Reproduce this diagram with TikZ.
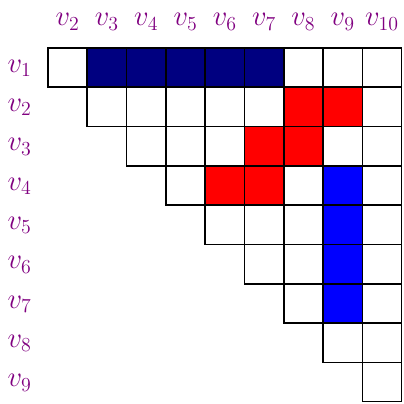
\documentclass[tikz,border=0pt]{standalone}
\definecolor{navyc}{RGB}{0,0,128}
\definecolor{labc}{RGB}{128,0,128}
\begin{document}
\begin{tikzpicture}[x=1cm,y=1cm,
  cell/.style={minimum size=1cm, inner sep=0pt, outer sep=0pt, anchor=north west},
  border/.style={draw=black, line width=1.1pt},
  lab/.style={text=labc, font=\fontsize{21.5}{26}\selectfont, inner sep=0pt, anchor=base}]
\useasboundingbox (-1.22,1.22) rectangle (9.06,-9.06);
% cells
\foreach \i in {0,...,8}{
  \foreach \j in {\i,...,8}{
    \def\cc{white}
    \ifnum\i=0 \ifnum\j>0 \ifnum\j<6 \def\cc{navyc}\fi\fi\fi
    \ifnum\j=7 \ifnum\i>2 \ifnum\i<7 \def\cc{blue}\fi\fi\fi
    \pgfmathtruncatemacro\s{\i+\j}
    \ifnum\i>0 \ifnum\i<4 \ifnum\s>6 \ifnum\s<9 \def\cc{red}\fi\fi\fi\fi
    \node[cell, fill=\cc] (c\i-\j) at (\j,-\i) {};
  }
}
\foreach \i in {0,...,8}{
  \foreach \j in {\i,...,8}{
    \draw[border] (c\i-\j.north west) rectangle (c\i-\j.south east);
  }
}
% labels
\foreach \j in {0,...,8}{
  \pgfmathtruncatemacro\n{\j+2}
  \node[lab] (col\n) at (\j+0.5,0.56) {$v_{\n}$};
}
\foreach \i in {0,...,8}{
  \pgfmathtruncatemacro\n{\i+1}
  \node[lab] (row\n) at (-0.72,-\i-0.62) {$v_{\n}$};
}
\end{tikzpicture}
\end{document}
